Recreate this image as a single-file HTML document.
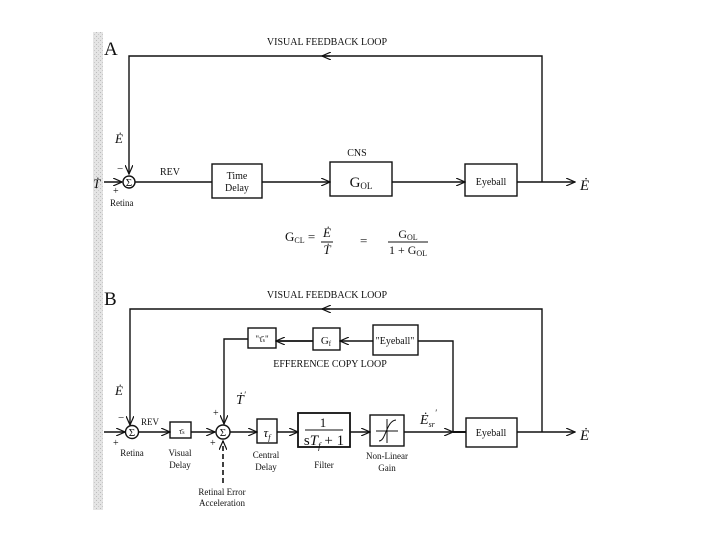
<!DOCTYPE html>
<html><head><meta charset="utf-8"><style>
html,body{margin:0;padding:0;background:#fff;}
svg{display:block;}
text{font-family:"Liberation Serif",serif;fill:#111;}
</style></head><body>
<svg width="720" height="540" viewBox="0 0 720 540" xmlns="http://www.w3.org/2000/svg">
<defs>
<marker id="a" markerWidth="10" markerHeight="8" refX="9" refY="4" orient="auto" markerUnits="userSpaceOnUse">
<path d="M0,0 L9,4 L0,8" fill="none" stroke="#111" stroke-width="1.2"/></marker>
<pattern id="g" width="4" height="4" patternUnits="userSpaceOnUse">
<rect width="4" height="4" fill="#e4e4e4"/><rect x="0" y="0" width="1" height="1" fill="#bbb"/><rect x="2" y="2" width="1" height="1" fill="#c8c8c8"/></pattern>
</defs>
<rect x="93" y="32" width="10" height="478" fill="url(#g)"/>
<g stroke="#111" stroke-width="1.4" fill="none">
<!-- Panel A -->
<polyline points="542,182 542,56 129,56 129,174" marker-end="url(#a)"/>
<line x1="330" y1="56" x2="322" y2="56" marker-end="url(#a)"/>
<line x1="104" y1="182" x2="122" y2="182" marker-end="url(#a)"/>
<circle cx="129" cy="182" r="6"/>
<line x1="135" y1="182" x2="212" y2="182"/>
<rect x="212" y="164" width="50" height="34"/>
<line x1="262" y1="182" x2="330" y2="182" marker-end="url(#a)"/>
<rect x="330" y="162" width="62" height="34"/>
<line x1="392" y1="182" x2="465" y2="182" marker-end="url(#a)"/>
<rect x="465" y="164" width="52" height="32"/>
<line x1="517" y1="182" x2="575" y2="182" marker-end="url(#a)"/>
<line x1="321" y1="242" x2="333" y2="242" stroke-width="1"/>
<line x1="388" y1="242" x2="428" y2="242" stroke-width="1"/>
<!-- Panel B -->
<polyline points="542,432 542,309 130,309 130,425" marker-end="url(#a)"/>
<line x1="330" y1="309" x2="322" y2="309" marker-end="url(#a)"/>
<line x1="104" y1="432" x2="125" y2="432" marker-end="url(#a)"/>
<circle cx="132" cy="432" r="6.5"/>
<line x1="138" y1="432" x2="170" y2="432" marker-end="url(#a)"/>
<rect x="170" y="422" width="21" height="16"/>
<line x1="191" y1="432" x2="215" y2="432" marker-end="url(#a)"/>
<circle cx="223" cy="432" r="7"/>
<line x1="230" y1="432" x2="257" y2="432" marker-end="url(#a)"/>
<rect x="257" y="419" width="20" height="24"/>
<line x1="277" y1="432" x2="298" y2="432" marker-end="url(#a)"/>
<rect x="298" y="413" width="52" height="34" stroke-width="1.8"/>
<line x1="350" y1="432" x2="370" y2="432" marker-end="url(#a)"/>
<rect x="370" y="415" width="34" height="31"/>
<line x1="404" y1="432" x2="453" y2="432" marker-end="url(#a)"/>
<line x1="453" y1="432" x2="466" y2="432" stroke-width="2"/>
<rect x="466" y="418" width="51" height="29"/>
<line x1="517" y1="432" x2="575" y2="432" marker-end="url(#a)"/>
<polyline points="453,432 453,341 418,341"/>
<rect x="373" y="325" width="45" height="30"/>
<line x1="373" y1="341" x2="340" y2="341" marker-end="url(#a)"/>
<rect x="313" y="328" width="27" height="22"/>
<line x1="313" y1="341" x2="276" y2="341" stroke-width="1.8" marker-end="url(#a)"/>
<rect x="248" y="328" width="28" height="20"/>
<polyline points="248,339 224,339 224,424" marker-end="url(#a)"/>
<line x1="223" y1="483" x2="223" y2="441" stroke-dasharray="5,3" stroke-width="1.6" marker-end="url(#a)"/>
<line x1="305" y1="430" x2="343" y2="430" stroke-width="1"/>
<path d="M376,431 L398,431 M387,419 L387,443 M379,441 C386,441 386,421 396,420" stroke-width="1"/>
</g>
<!-- Panel A text -->
<text x="104" y="55" font-size="19">A</text>
<text x="327" y="45" font-size="10" text-anchor="middle">VISUAL FEEDBACK LOOP</text>
<text x="115" y="143" font-size="13" font-style="italic">Ė</text>
<text x="117" y="172" font-size="11">−</text>
<text x="129" y="186" font-size="11" text-anchor="middle">Σ</text>
<text x="93" y="188" font-size="13" font-style="italic">Ṫ</text>
<text x="113" y="194" font-size="10">+</text>
<text x="110" y="206" font-size="9">Retina</text>
<text x="160" y="175" font-size="10">REV</text>
<text x="237" y="179" font-size="10" text-anchor="middle">Time</text>
<text x="237" y="191" font-size="10" text-anchor="middle">Delay</text>
<text x="357" y="156" font-size="10" text-anchor="middle">CNS</text>
<text x="361" y="187" font-size="15" text-anchor="middle">G<tspan font-size="9" dy="2">OL</tspan></text>
<text x="491" y="185" font-size="10" text-anchor="middle">Eyeball</text>
<text x="580" y="190" font-size="15" font-style="italic">Ė</text>
<text x="285" y="241" font-size="13">G<tspan font-size="8" dy="2">CL</tspan><tspan dy="-2"> =</tspan></text>
<text x="327" y="237" font-size="13" font-style="italic" text-anchor="middle">Ė</text>
<text x="327" y="254" font-size="13" font-style="italic" text-anchor="middle">Ṫ</text>
<text x="360" y="245" font-size="13">=</text>
<text x="408" y="238" font-size="12" text-anchor="middle">G<tspan font-size="8" dy="2">OL</tspan></text>
<text x="408" y="254" font-size="12" text-anchor="middle">1 + G<tspan font-size="8" dy="2">OL</tspan></text>
<!-- Panel B text -->
<text x="104" y="305" font-size="19">B</text>
<text x="327" y="298" font-size="10" text-anchor="middle">VISUAL FEEDBACK LOOP</text>
<text x="330" y="367" font-size="10" text-anchor="middle">EFFERENCE COPY LOOP</text>
<text x="115" y="395" font-size="13" font-style="italic">Ė</text>
<text x="118" y="421" font-size="11">−</text>
<text x="132" y="436" font-size="11" text-anchor="middle">Σ</text>
<text x="113" y="446" font-size="10">+</text>
<text x="141" y="425" font-size="9">REV</text>
<text x="179" y="434" font-size="8">τ̄<tspan font-size="6">s</tspan></text>
<text x="132" y="456" font-size="9" text-anchor="middle">Retina</text>
<text x="180" y="456" font-size="9" text-anchor="middle">Visual</text>
<text x="180" y="468" font-size="9" text-anchor="middle">Delay</text>
<text x="213" y="416" font-size="10">+</text>
<text x="210" y="446" font-size="10">+</text>
<text x="223" y="436" font-size="11" text-anchor="middle">Σ</text>
<text x="236" y="404" font-size="14" font-style="italic">Ṫ<tspan font-size="9" dy="-6">′</tspan></text>
<text x="267" y="437" font-size="13" font-style="italic" text-anchor="middle">τ<tspan font-size="8" dy="3">f</tspan></text>
<text x="266" y="458" font-size="9" text-anchor="middle">Central</text>
<text x="266" y="470" font-size="9" text-anchor="middle">Delay</text>
<text x="323" y="427" font-size="13" text-anchor="middle">1</text>
<text x="324" y="445" font-size="15" text-anchor="middle">s<tspan font-style="italic">T</tspan><tspan font-size="9" font-style="italic" dy="4">f</tspan><tspan dy="-4"> + 1</tspan></text>
<text x="324" y="468" font-size="9" text-anchor="middle">Filter</text>
<text x="387" y="459" font-size="9" text-anchor="middle">Non-Linear</text>
<text x="387" y="471" font-size="9" text-anchor="middle">Gain</text>
<text x="420" y="424" font-size="14" font-style="italic">Ė<tspan font-size="8" dy="3">sr</tspan><tspan font-size="9" dy="-11">′</tspan></text>
<text x="491" y="436" font-size="10" text-anchor="middle">Eyeball</text>
<text x="580" y="440" font-size="15" font-style="italic">Ė</text>
<text x="395" y="344" font-size="10" text-anchor="middle">"Eyeball"</text>
<text x="326" y="344" font-size="11" text-anchor="middle">G<tspan font-size="7" dy="2">f</tspan></text>
<text x="262" y="342" font-size="9" text-anchor="middle">"τ̄<tspan font-size="6">s</tspan>"</text>
<text x="222" y="495" font-size="9" text-anchor="middle">Retinal Error</text>
<text x="222" y="506" font-size="9" text-anchor="middle">Acceleration</text>
</svg>
</body></html>
